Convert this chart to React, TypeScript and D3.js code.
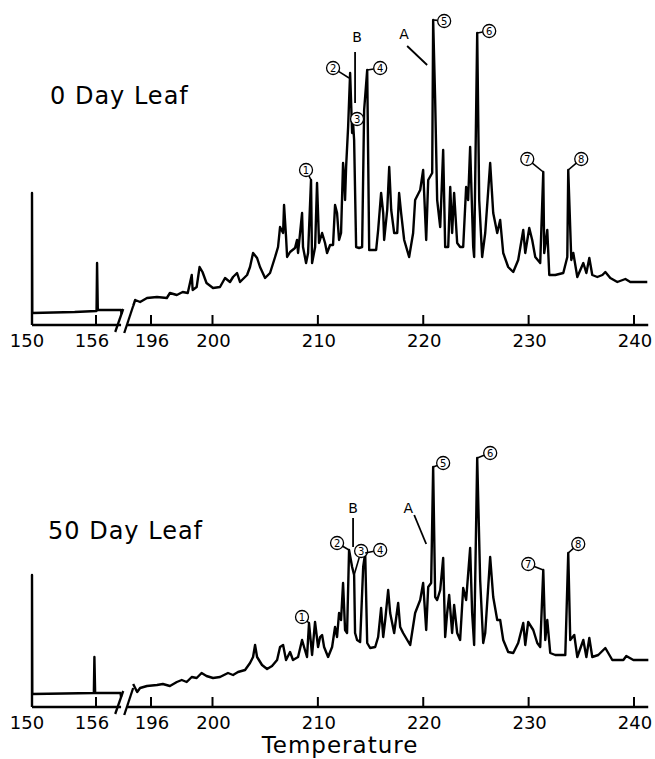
import React from 'react';
import * as d3 from 'd3';

type Pt = [number, number];

// temperature, detector response (arbitrary units)
const topLeftTrace: Pt[] = [
  [150, 0], [150, 132], [150.03, 12], [152, 12.5], [154, 13], [156.05, 14], [156.1, 62],
  [156.17, 15], [157, 15], [158.35, 15], [158.4, 11],
];

const topRightTrace: Pt[] = [
  [194.84, 19], [194.97, 25], [195.29, 23], [195.74, 27], [196.39, 28], [197.03, 27], [197.23, 32], [197.68, 30],
  [198.06, 33], [198.39, 32], [198.65, 50], [198.71, 35], [198.97, 38], [199.16, 58], [199.35, 53],
  [199.61, 42], [200.05, 37], [200.71, 38], [201.19, 47], [201.66, 43], [201.95, 48], [202.33, 52],
  [202.61, 43], [203.28, 50], [203.56, 58], [203.85, 72], [204.23, 67], [204.51, 58], [204.99, 47],
  [205.46, 52], [205.94, 68], [206.22, 78], [206.41, 98], [206.7, 92], [206.79, 120], [206.98, 88],
  [207.08, 68], [207.36, 73], [207.83, 77], [208.02, 85], [208.12, 72], [208.5, 112], [208.59, 78],
  [208.88, 62], [209.07, 72], [209.35, 145], [209.45, 62], [209.74, 78], [209.92, 142], [210.11, 82],
  [210.4, 92], [210.68, 82], [210.87, 72], [211.16, 80], [211.44, 80], [211.63, 120], [211.82, 112],
  [212.01, 85], [212.2, 92], [212.39, 162], [212.49, 148], [212.58, 125], [212.68, 158], [212.87, 198],
  [213.06, 252], [213.25, 192], [213.34, 202], [213.44, 185], [213.63, 78], [213.91, 77], [214.2, 78],
  [214.39, 215], [214.68, 255], [214.87, 75], [215.25, 75], [215.53, 75], [215.72, 95], [216.0, 132],
  [216.2, 112], [216.29, 85], [216.58, 115], [216.77, 158], [216.96, 115], [217.24, 92], [217.53, 92],
  [217.71, 132], [217.9, 112], [218.19, 85], [218.66, 68], [219.04, 92], [219.23, 125], [219.71, 135],
  [219.99, 155], [220.28, 85], [220.47, 145], [220.85, 152], [220.94, 305], [221.13, 225], [221.32, 125],
  [221.61, 98], [221.89, 175], [222.08, 78], [222.37, 78], [222.56, 138], [222.74, 92], [222.93, 132],
  [223.22, 82], [223.5, 78], [223.79, 78], [224.07, 138], [224.26, 125], [224.45, 178], [224.74, 78],
  [224.83, 68], [225.12, 292], [225.31, 125], [225.59, 68], [225.88, 92], [226.35, 162], [226.64, 112],
  [227.02, 92], [227.3, 105], [227.59, 72], [228.06, 58], [228.54, 53], [229.01, 65], [229.49, 95],
  [229.68, 72], [230.06, 97], [230.34, 85], [230.63, 68], [231.1, 62], [231.39, 153], [231.48, 72],
  [231.77, 95], [231.96, 50], [232.53, 50], [233.29, 52], [233.67, 68], [233.76, 155], [234.05, 65],
  [234.24, 72], [234.62, 48], [235.19, 62], [235.48, 52], [235.76, 67], [236.04, 50], [236.52, 48],
  [237.0, 50], [237.28, 53], [237.75, 47], [238.42, 43], [239.18, 46], [239.65, 43], [241.26, 43],
];

const bottomLeftTrace: Pt[] = [
  [150, 0], [150, 132], [150.03, 13], [153, 13.5], [155.8, 14], [155.85, 50], [155.92, 14],
  [158.3, 14], [158.35, 10],
];

const bottomRightTrace: Pt[] = [
  [194.84, 23], [195.1, 15], [195.29, 19], [195.74, 21], [196.39, 22], [196.77, 23], [197.23, 21],
  [197.68, 25], [198.0, 27], [198.32, 25], [198.65, 30], [198.97, 29], [199.29, 34], [199.61, 31],
  [200.05, 29], [200.71, 30], [201.47, 34], [201.95, 32], [202.42, 35], [203.09, 37], [203.56, 44],
  [203.85, 50], [204.04, 62], [204.23, 50], [204.7, 42], [205.18, 38], [205.65, 41], [206.13, 47],
  [206.41, 60], [206.7, 62], [206.98, 47], [207.36, 55], [207.64, 47], [208.12, 50], [208.5, 67],
  [208.69, 60], [208.97, 50], [209.16, 84], [209.45, 52], [209.73, 85], [210.02, 60], [210.21, 70],
  [210.4, 72], [210.59, 60], [210.97, 50], [211.35, 60], [211.63, 80], [211.82, 70], [212.01, 94],
  [212.2, 87], [212.39, 124], [212.58, 77], [212.77, 74], [212.96, 157], [213.25, 140], [213.44, 132],
  [213.53, 74], [213.72, 67], [214.01, 65], [214.3, 140], [214.49, 154], [214.68, 64], [214.96, 59],
  [215.44, 60], [215.72, 70], [216.0, 99], [216.2, 70], [216.39, 87], [216.67, 117], [216.86, 94],
  [217.24, 74], [217.62, 104], [217.81, 80], [218.09, 74], [218.76, 62], [219.23, 94], [219.71, 107],
  [219.99, 124], [220.28, 77], [220.47, 120], [220.75, 124], [220.94, 240], [221.13, 110], [221.32, 107],
  [221.61, 117], [221.89, 149], [222.08, 70], [222.27, 94], [222.46, 112], [222.74, 74], [222.93, 102],
  [223.22, 74], [223.5, 67], [223.79, 119], [224.07, 107], [224.45, 159], [224.64, 94], [224.83, 62],
  [225.12, 249], [225.4, 127], [225.69, 64], [225.88, 74], [226.35, 150], [226.64, 110], [227.02, 87],
  [227.3, 87], [227.59, 67], [228.06, 55], [228.54, 54], [229.01, 64], [229.49, 84], [229.68, 62],
  [229.96, 85], [230.44, 77], [230.82, 64], [231.1, 60], [231.39, 137], [231.58, 67], [231.77, 87],
  [232.05, 54], [232.53, 52], [233.48, 52], [233.76, 154], [233.95, 67], [234.33, 72], [234.62, 50],
  [235.19, 67], [235.48, 50], [235.76, 69], [236.04, 50], [236.61, 52], [237.28, 59], [237.94, 47],
  [238.99, 47], [239.27, 51], [239.94, 47], [241.36, 47],
];

const leftTicks = [150, 156];
const rightTicks = [196, 200, 210, 220, 230, 240];

interface PeakLabel { id: string; t: number; v: number; dx: number; dy: number; noLeader?: boolean }
interface LetterLabel { id: string; t: number; v: number; lx: number; ly: number; tx: number; ty: number }

const topPeaks: PeakLabel[] = [
  { id: '1', t: 209.35, v: 145, dx: -5, dy: -10 },
  { id: '2', t: 212.96, v: 247, dx: -16, dy: -10 },
  { id: '3', t: 213.34, v: 202, dx: 4, dy: -4, noLeader: true },
  { id: '4', t: 214.68, v: 255, dx: 13, dy: -2 },
  { id: '5', t: 220.94, v: 305, dx: 11, dy: 1 },
  { id: '6', t: 225.12, v: 292, dx: 12, dy: -2 },
  { id: '7', t: 231.39, v: 153, dx: -16, dy: -13 },
  { id: '8', t: 233.76, v: 155, dx: 13, dy: -11 },
];

const bottomPeaks: PeakLabel[] = [
  { id: '1', t: 209.16, v: 84, dx: -7, dy: -6 },
  { id: '2', t: 212.96, v: 157, dx: -12, dy: -7 },
  { id: '3', t: 213.44, v: 132, dx: 7, dy: -24 },
  { id: '4', t: 214.49, v: 154, dx: 15, dy: -3 },
  { id: '5', t: 220.94, v: 240, dx: 10, dy: -4 },
  { id: '6', t: 225.12, v: 249, dx: 13, dy: -5 },
  { id: '7', t: 231.39, v: 137, dx: -15, dy: -6 },
  { id: '8', t: 233.76, v: 154, dx: 10, dy: -9 },
];

const topLetters: LetterLabel[] = [
  { id: 'B', t: 213.53, v: 222, lx: 0, ly: -51, tx: 2, ty: -66 },
  { id: 'A', t: 220.37, v: 260, lx: -20, ly: -19, tx: -23, ty: -31 },
];

const bottomLetters: LetterLabel[] = [
  { id: 'B', t: 213.34, v: 160, lx: 0, ly: -29, tx: 0, ty: -39 },
  { id: 'A', t: 220.28, v: 163, lx: -12, ly: -29, tx: -18, ty: -36 },
];

const FONT = '"DejaVu Sans", Verdana, sans-serif';

// broken temperature axis: short isothermal part, then the programmed ramp
const xLeft = d3.scaleLinear().domain([150, 156]).range([32, 96]);
const xRight = d3.scaleLinear().domain([196, 200, 240]).range([151, 212.5, 634]);

interface PanelProps {
  axisY: number;
  title: string;
  titleX: number;
  titleY: number;
  leftTrace: Pt[];
  rightTrace: Pt[];
  peaks: PeakLabel[];
  letters: LetterLabel[];
}

const Panel: React.FC<PanelProps> = ({ axisY, title, titleX, titleY, leftTrace, rightTrace, peaks, letters }) => {
  const y = d3.scaleLinear().domain([0, 300]).range([axisY, axisY - 300]);
  const lineL = d3.line<Pt>().x(d => xLeft(d[0])).y(d => y(d[1]));
  const lineR = d3.line<Pt>().x(d => xRight(d[0])).y(d => y(d[1]));
  const r = 6.5;

  return (
    <g>
      <text x={titleX} y={titleY} fontFamily={FONT} fontSize={24} letterSpacing={1}>{title}</text>

      {/* axis segments */}
      <line x1={xLeft(150)} x2={xLeft(158.35)} y1={axisY} y2={axisY} stroke="#000" strokeWidth={2.6} />
      <line x1={xRight(194.45)} x2={xRight(241.35)} y1={axisY} y2={axisY} stroke="#000" strokeWidth={2.6} />
      {/* break marks */}
      <line x1={xLeft(157.8)} y1={axisY + 7} x2={xLeft(158.55)} y2={axisY - 16} stroke="#000" strokeWidth={2.3} />
      <line x1={xRight(194.26)} y1={axisY + 8} x2={xRight(194.84)} y2={axisY - 19} stroke="#000" strokeWidth={2.3} />

      {leftTicks.map(t => (
        <g key={'l' + t}>
          <line x1={xLeft(t)} x2={xLeft(t)} y1={axisY} y2={axisY - 10} stroke="#000" strokeWidth={2} />
          <text x={xLeft(t) - (t === 150 ? 5 : 4)} y={axisY + 22} textAnchor="middle" fontFamily={FONT} fontSize={18}>{t}</text>
        </g>
      ))}
      {rightTicks.map(t => (
        <g key={'r' + t}>
          <line x1={xRight(t)} x2={xRight(t)} y1={axisY} y2={axisY - 10} stroke="#000" strokeWidth={2} />
          <text x={xRight(t) + 1} y={axisY + 22} textAnchor="middle" fontFamily={FONT} fontSize={18}>{t}</text>
        </g>
      ))}

      <path d={lineL(leftTrace) || ''} fill="none" stroke="#000" strokeWidth={2.4} strokeLinejoin="round" />
      <path d={lineR(rightTrace) || ''} fill="none" stroke="#000" strokeWidth={2.4} strokeLinejoin="round" />

      {letters.map(l => {
        const ax = xRight(l.t);
        const ay = y(l.v);
        return (
          <g key={l.id}>
            <line x1={ax} y1={ay} x2={ax + l.lx} y2={ay + l.ly} stroke="#000" strokeWidth={1.8} />
            <text x={ax + l.tx} y={ay + l.ty + 5} textAnchor="middle" fontFamily={FONT} fontSize={14}>{l.id}</text>
          </g>
        );
      })}

      {peaks.map(p => {
        const ax = xRight(p.t);
        const ay = y(p.v);
        const cx = ax + p.dx;
        const cy = ay + p.dy;
        const len = Math.hypot(p.dx, p.dy);
        const ex = cx - (p.dx / len) * r;
        const ey = cy - (p.dy / len) * r;
        return (
          <g key={p.id}>
            {!p.noLeader && <line x1={ax} y1={ay} x2={ex} y2={ey} stroke="#000" strokeWidth={1.6} />}
            <circle cx={cx} cy={cy} r={r} fill="#fff" stroke="#000" strokeWidth={1.3} />
            <text x={cx} y={cy + 3.6} textAnchor="middle" fontFamily={FONT} fontSize={10}>{p.id}</text>
          </g>
        );
      })}
    </g>
  );
};

export default function App() {
  return (
    <svg width={655} height={759} style={{ position: 'absolute', left: 0, top: 0, background: '#fff' }}>
      <rect width={655} height={759} fill="#fff" />
      <Panel axisY={325} title="0 Day Leaf" titleX={50} titleY={104}
        leftTrace={topLeftTrace} rightTrace={topRightTrace} peaks={topPeaks} letters={topLetters} />
      <Panel axisY={707} title="50 Day Leaf" titleX={48} titleY={539}
        leftTrace={bottomLeftTrace} rightTrace={bottomRightTrace} peaks={bottomPeaks} letters={bottomLetters} />
      <text x={340} y={753} textAnchor="middle" fontFamily={FONT} fontSize={23} letterSpacing={1}>Temperature</text>
    </svg>
  );
}
